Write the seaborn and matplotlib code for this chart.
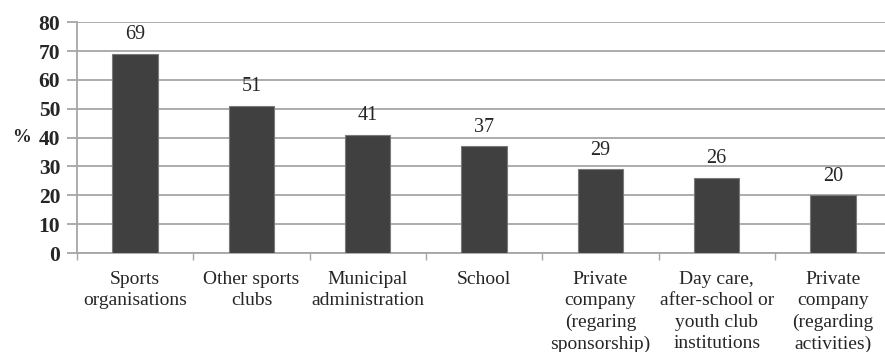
import matplotlib
matplotlib.use("Agg")
import matplotlib.pyplot as plt
import seaborn as sns
import pandas as pd
import numpy as np
from matplotlib.ticker import FixedLocator

categories = [
    "Sports\norganisations",
    "Other sports\nclubs",
    "Municipal\nadministration",
    "School",
    "Private\ncompany\n(regaring\nsponsorship)",
    "Day care,\nafter-school or\nyouth club\ninstitutions",
    "Private\ncompany\n(regarding\nactivities)",
]
values = [69, 51, 41, 37, 29, 26, 20]
y_ticks = [0, 10, 20, 30, 40, 50, 60, 70, 80]

df = pd.DataFrame({"category": categories, "value": values})

sns.set_theme(style="white")
plt.rcParams["font.family"] = ["Liberation Serif", "DejaVu Serif"]

grid_col = "#a6a6a6"
fig = plt.figure(figsize=(8.85, 3.52), dpi=100)
ax = fig.add_axes([0.087, 0.281, 0.92, 0.656])

sns.barplot(data=df, x="category", y="value", color="#404040",
            width=0.39, edgecolor="#7a7a7a", linewidth=0.8, ax=ax,
            saturation=1, zorder=3)

ax.set_ylim(0, 80)
ax.set_xlim(-0.5, len(categories) - 0.5)
ax.set_yticks(y_ticks)
ax.set_yticklabels([str(t) for t in y_ticks], fontsize=15.5, fontweight="bold")
ax.yaxis.grid(True, color=grid_col, linewidth=1.3, zorder=0)
ax.set_axisbelow(True)

ax.set_xlabel("")
ax.set_ylabel("%", fontsize=13.5, fontweight="bold", rotation=0,
              labelpad=12, va="center")

ax.tick_params(axis="x", which="major", length=0, pad=13, labelsize=14)
ax.xaxis.set_minor_locator(FixedLocator(np.arange(-0.5, len(categories), 1.0)))
ax.tick_params(axis="x", which="minor", length=5, width=1.0, color=grid_col,
               bottom=True)
ax.tick_params(axis="y", which="major", length=7, width=1.3, color=grid_col,
               pad=5, left=True)
for lbl in ax.get_xticklabels():
    lbl.set_linespacing(1.33)
    lbl.set_va("top")

for s in ["top", "right"]:
    ax.spines[s].set_visible(False)
for s in ["left", "bottom"]:
    ax.spines[s].set_color(grid_col)
    ax.spines[s].set_linewidth(1.3)

for i, v in enumerate(values):
    ax.annotate(str(v), (i, v), xytext=(0, 7), textcoords="offset points",
                ha="center", va="bottom", fontsize=14.5)

fig.savefig("out.png", dpi=100)
